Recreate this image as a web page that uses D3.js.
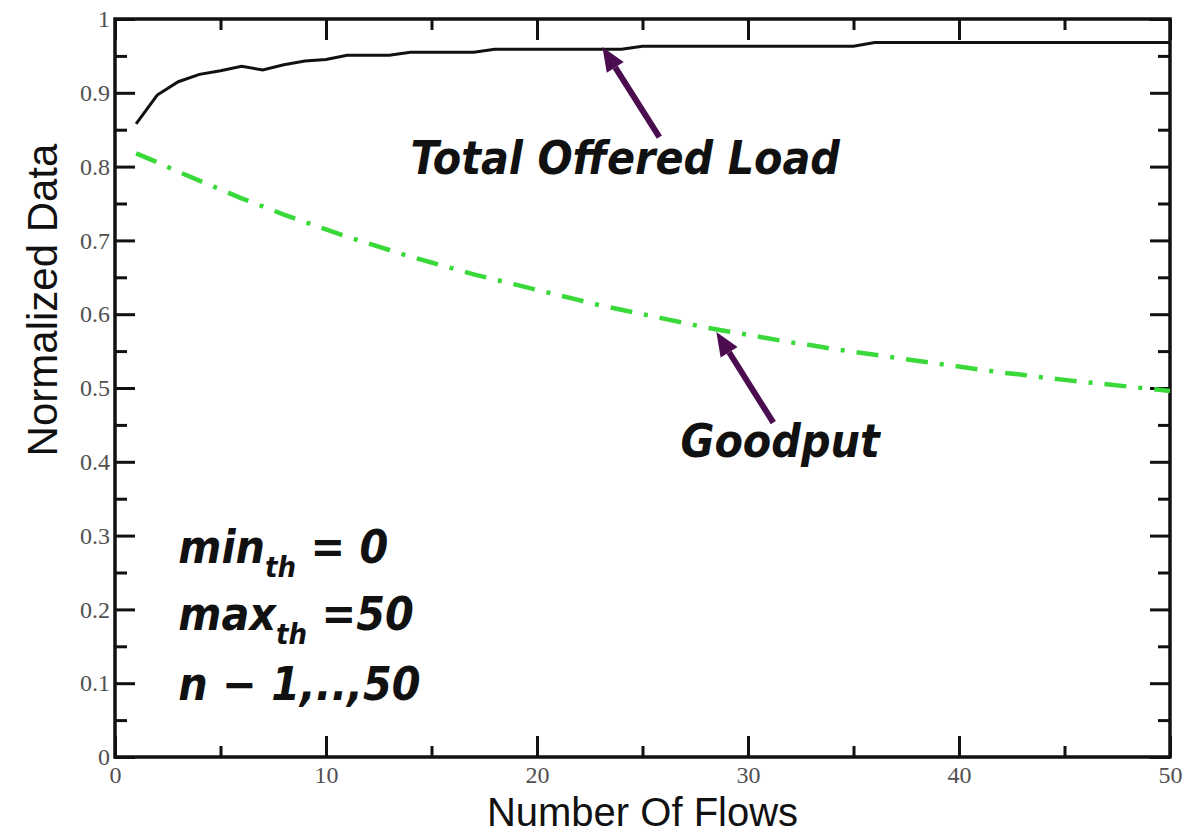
<!DOCTYPE html>
<html>
<head>
<meta charset="utf-8">
<script src="https://cdn.jsdelivr.net/npm/d3@7"></script>
<style>
  html, body { margin: 0; padding: 0; background: #fff; }
  svg { display: block; }
  .tick text { font-family: "Liberation Serif", "Times New Roman", serif; fill: #505050; }
  .note { font-family: "DejaVu Sans Condensed", "DejaVu Sans", sans-serif; font-stretch: condensed; font-weight: bold; font-style: italic; fill: #111; }
</style>
</head>
<body>
<div id="chart"></div>
<script>
const WIDTH = 1204;
const HEIGHT = 837;
const margin = { top: 19, right: 34, bottom: 80, left: 115 };

// number of flows n = 1..50
const flows = d3.range(1, 51);

// normalized total offered load (black, solid)
const offeredLoad = [
  0.858, 0.897, 0.915, 0.925, 0.930, 0.936, 0.931, 0.938, 0.943, 0.945,
  0.951, 0.951, 0.951, 0.955, 0.955, 0.955, 0.955, 0.959, 0.959, 0.959,
  0.959, 0.959, 0.959, 0.959, 0.963, 0.963, 0.963, 0.963, 0.963, 0.963,
  0.963, 0.963, 0.963, 0.963, 0.963, 0.968, 0.968, 0.968, 0.968, 0.968,
  0.968, 0.968, 0.968, 0.968, 0.968, 0.968, 0.968, 0.968, 0.968, 0.968
];

// normalized goodput (green, dash-dot)
const goodput = [
  0.818, 0.806, 0.793, 0.781, 0.769, 0.757, 0.746, 0.735, 0.725, 0.715,
  0.705, 0.696, 0.687, 0.678, 0.670, 0.662, 0.654, 0.647, 0.640, 0.633,
  0.626, 0.619, 0.612, 0.606, 0.600, 0.594, 0.588, 0.582, 0.577, 0.572,
  0.567, 0.562, 0.558, 0.553, 0.549, 0.545, 0.541, 0.537, 0.533, 0.529,
  0.525, 0.521, 0.518, 0.514, 0.511, 0.508, 0.505, 0.502, 0.499, 0.496
];

const xMajor = [0, 10, 20, 30, 40, 50];
const xMinor = [5, 15, 25, 35, 45];
const yMajor = [0, 0.1, 0.2, 0.3, 0.4, 0.5, 0.6, 0.7, 0.8, 0.9, 1];
const yMinor = [0.05, 0.15, 0.25, 0.35, 0.45, 0.55, 0.65, 0.75, 0.85, 0.95];

// arrows in data units: tail -> tip
const arrows = [
  { from: [25.8, 0.840], to: [23.1, 0.962] },
  { from: [31.2, 0.453], to: [28.5, 0.576] }
];

const W = WIDTH - margin.left - margin.right;
const H = HEIGHT - margin.top - margin.bottom;

const svg = d3.select("#chart").append("svg")
  .attr("width", WIDTH)
  .attr("height", HEIGHT);

const g = svg.append("g")
  .attr("transform", `translate(${margin.left},${margin.top})`);

const x = d3.scaleLinear().domain([0, 50]).range([0, W]);
const y = d3.scaleLinear().domain([0, 1]).range([H, 0]);

const fmtY = d => (d === 0 || d === 1) ? String(d) : d.toFixed(1);

function styleAxis(sel) {
  sel.select(".domain").remove();
  sel.selectAll(".tick line").attr("stroke", "#111").attr("stroke-width", 3);
  sel.selectAll(".tick text").style("font-size", "24px");
}

// left
g.append("g").call(d3.axisLeft(y).tickValues(yMajor).tickSize(-20).tickPadding(5).tickFormat(fmtY)).call(styleAxis);
g.append("g").call(d3.axisLeft(y).tickValues(yMinor).tickSize(-12).tickFormat("")).call(styleAxis);
// right
g.append("g").attr("transform", `translate(${W},0)`)
  .call(d3.axisRight(y).tickValues(yMajor).tickSize(-20).tickFormat("")).call(styleAxis);
g.append("g").attr("transform", `translate(${W},0)`)
  .call(d3.axisRight(y).tickValues(yMinor).tickSize(-12).tickFormat("")).call(styleAxis);
// bottom
g.append("g").attr("transform", `translate(0,${H})`)
  .call(d3.axisBottom(x).tickValues(xMajor).tickSize(-21).tickPadding(9)).call(styleAxis);
g.append("g").attr("transform", `translate(0,${H})`)
  .call(d3.axisBottom(x).tickValues(xMinor).tickSize(-11).tickFormat("")).call(styleAxis);
// top
g.append("g").call(d3.axisTop(x).tickValues(xMajor).tickSize(-21).tickFormat("")).call(styleAxis);
g.append("g").call(d3.axisTop(x).tickValues(xMinor).tickSize(-11).tickFormat("")).call(styleAxis);

// frame
g.append("rect")
  .attr("width", W).attr("height", H)
  .attr("fill", "none").attr("stroke", "#111").attr("stroke-width", 3.5);

// series
const line = d3.line()
  .x((d, i) => x(flows[i]))
  .y(d => y(d));

g.append("path")
  .datum(goodput)
  .attr("d", line)
  .attr("fill", "none")
  .attr("stroke", "#3ad93a")
  .attr("stroke-width", 4.5)
  .attr("stroke-dasharray", "22,12,4,12");

g.append("path")
  .datum(offeredLoad)
  .attr("d", line)
  .attr("fill", "none")
  .attr("stroke", "#111")
  .attr("stroke-width", 3);

// arrows
const ARROW = "#4b0d50";
arrows.forEach(a => {
  const x0 = x(a.from[0]), y0 = y(a.from[1]);
  const x1 = x(a.to[0]), y1 = y(a.to[1]);
  const ang = Math.atan2(y1 - y0, x1 - x0);
  const headL = 24, headW = 10;
  const bx = x1 - headL * Math.cos(ang), by = y1 - headL * Math.sin(ang);
  g.append("line")
    .attr("x1", x0).attr("y1", y0).attr("x2", bx).attr("y2", by)
    .attr("stroke", ARROW).attr("stroke-width", 6);
  const px = -Math.sin(ang) * headW, py = Math.cos(ang) * headW;
  g.append("path")
    .attr("d", `M${x1},${y1}L${bx + px},${by + py}L${bx - px},${by - py}Z`)
    .attr("fill", ARROW);
});

// labels
g.append("text").attr("class", "note")
  .attr("x", x(14.0)).attr("y", y(0.790))
  .style("font-size", "46px")
  .text("Total Offered Load");

g.append("text").attr("class", "note")
  .attr("x", x(26.8)).attr("y", y(0.407))
  .style("font-size", "46px")
  .text("Goodput");

function param(v, main, sub, rest) {
  const t = g.append("text").attr("class", "note")
    .attr("x", x(3.0)).attr("y", y(v))
    .style("font-size", "46px");
  t.append("tspan").text(main);
  if (sub) {
    t.append("tspan").attr("dy", 14).style("font-size", "29px").text(sub);
    t.append("tspan").attr("dy", -14).text(rest);
  }
}
param(0.263, "min", "th", " = 0");
param(0.172, "max", "th", " =50");
param(0.077, "n \u2212 1,..,50");

// axis titles
svg.append("text")
  .attr("x", margin.left + W / 2).attr("y", 826)
  .attr("text-anchor", "middle")
  .style("font-family", "'Liberation Sans', Arial, sans-serif")
  .style("font-size", "40px")
  .style("fill", "#111")
  .text("Number Of Flows");

svg.append("text")
  .attr("transform", "translate(57,300) rotate(-90)")
  .attr("text-anchor", "middle")
  .style("font-family", "'Liberation Sans', Arial, sans-serif")
  .style("font-size", "42px")
  .style("fill", "#111")
  .text("Normalized Data");
</script>
</body>
</html>
